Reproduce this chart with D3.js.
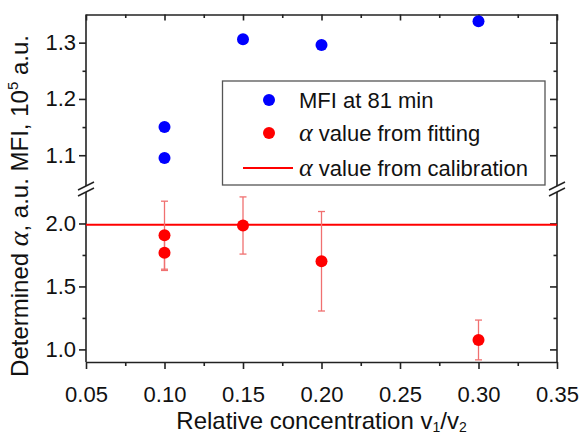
<!DOCTYPE html>
<html>
<head>
<meta charset="utf-8">
<script src="https://cdn.jsdelivr.net/npm/d3@7"></script>
<style>
  body { margin: 0; background: #fff; }
  svg { display: block; font-family: "Liberation Sans", Arial, sans-serif; }
</style>
</head>
<body>
<div id="chart"></div>
<script>
// données
const xTicks = [0.05, 0.10, 0.15, 0.20, 0.25, 0.30, 0.35];
const topTicks = [1.1, 1.2, 1.3];
const bottomTicks = [1.0, 1.5, 2.0];

const mfiX = [0.10, 0.10, 0.15, 0.20, 0.30];
const mfiY = [1.15, 1.095, 1.306, 1.296, 1.338];

const alphaX = [0.10, 0.10, 0.15, 0.20, 0.30];
const alphaY = [1.907, 1.767, 1.984, 1.70, 1.075];
const alphaErr = [0.27, 0.14, 0.227, 0.395, 0.158];

const calibration = 1.99;

const legendLabels = ["MFI at 81 min", "value from fitting", "value from calibration"];

const width = 580, height = 437;
const mLeft = 86, mRight = 557, mTop = 14.5, mBottom = 362;
const breakY = 189;

const svg = d3.select("#chart").append("svg")
  .attr("width", width)
  .attr("height", height);

const x = d3.scaleLinear().domain([0.05, 0.35]).range([mLeft, mRight]);
// deux échelles : partie haute (MFI) et partie basse (alpha)
const yTop = d3.scaleLinear().domain([1.04, 1.35]).range([breakY, mTop]);
const yBot = d3.scaleLinear().domain([0.9, 2.25]).range([mBottom, 192]);

const fontSize = 22;

// axes en bas / à gauche (ticks vers l'extérieur)
const xMinor = d3.range(0.075, 0.35, 0.05);
const axisColor = "#222";

const gx = svg.append("g").attr("transform", `translate(0,${mBottom})`)
  .call(d3.axisBottom(x).tickValues(xTicks).tickFormat(d3.format(".2f")).tickSize(7).tickSizeOuter(0));
svg.append("g").attr("transform", `translate(0,${mBottom})`)
  .call(d3.axisBottom(x).tickValues(xMinor).tickFormat("").tickSize(4).tickSizeOuter(0))
  .select(".domain").remove();

// axe du haut (ticks vers l'intérieur)
svg.append("g").attr("transform", `translate(0,${mTop})`)
  .call(d3.axisBottom(x).tickValues(xTicks).tickFormat("").tickSize(6).tickSizeOuter(0));
svg.append("g").attr("transform", `translate(0,${mTop})`)
  .call(d3.axisBottom(x).tickValues(xMinor).tickFormat("").tickSize(3.5).tickSizeOuter(0))
  .select(".domain").remove();

// axes gauches, deux morceaux
function leftAxis(scale, ticks, minors, y0, y1) {
  const g = svg.append("g").attr("transform", `translate(${mLeft},0)`);
  g.call(d3.axisLeft(scale).tickValues(ticks).tickFormat(d3.format(".1f")).tickSize(7).tickSizeOuter(0));
  g.select(".domain").remove();
  svg.append("g").attr("transform", `translate(${mLeft},0)`)
    .call(d3.axisLeft(scale).tickValues(minors).tickFormat("").tickSize(3.5))
    .select(".domain").remove();
  svg.append("line").attr("x1", mLeft).attr("x2", mLeft).attr("y1", y0).attr("y2", y1)
    .attr("stroke", axisColor).attr("stroke-width", 1.6);
  // droite
  svg.append("g").attr("transform", `translate(${mRight},0)`)
    .call(d3.axisRight(scale).tickValues(ticks).tickFormat("").tickSize(-7))
    .select(".domain").remove();
  svg.append("g").attr("transform", `translate(${mRight},0)`)
    .call(d3.axisRight(scale).tickValues(minors).tickFormat("").tickSize(-3.5))
    .select(".domain").remove();
  svg.append("line").attr("x1", mRight).attr("x2", mRight).attr("y1", y0).attr("y2", y1)
    .attr("stroke", axisColor).attr("stroke-width", 1.6);
}
leftAxis(yTop, topTicks, [1.15, 1.25], mTop, breakY - 3);
leftAxis(yBot, bottomTicks, [1.25, 1.75], breakY + 3, mBottom);

svg.selectAll(".tick line").attr("stroke", axisColor).attr("stroke-width", 1.6);
svg.selectAll(".domain").attr("stroke", axisColor).attr("stroke-width", 1.6);
svg.selectAll(".tick text")
  .attr("font-size", fontSize)
  .attr("font-family", "'Liberation Sans', Arial, sans-serif")
  .attr("fill", "#111");
gx.selectAll(".tick text").attr("y", 0).attr("dy", 0).attr("transform", "translate(0,40)");

// marques de coupure
[mLeft, mRight].forEach(cx => {
  [-3, 3].forEach(d => {
    svg.append("line")
      .attr("x1", cx - 8).attr("y1", breakY + d + 4)
      .attr("x2", cx + 8).attr("y2", breakY + d - 4)
      .attr("stroke", axisColor).attr("stroke-width", 1.4);
  });
});

// ligne de calibration
svg.append("line")
  .attr("x1", mLeft).attr("x2", mRight)
  .attr("y1", yBot(calibration)).attr("y2", yBot(calibration))
  .attr("stroke", "#ff0000").attr("stroke-width", 2);

// barres d'erreur
const errColor = "#f07070";
alphaX.forEach((xv, i) => {
  const cx = x(xv);
  const y1 = yBot(alphaY[i] + alphaErr[i]);
  const y2 = yBot(alphaY[i] - alphaErr[i]);
  svg.append("line").attr("x1", cx).attr("x2", cx).attr("y1", y1).attr("y2", y2)
    .attr("stroke", errColor).attr("stroke-width", 1.3);
  [y1, y2].forEach(yy => {
    svg.append("line").attr("x1", cx - 3.5).attr("x2", cx + 3.5).attr("y1", yy).attr("y2", yy)
      .attr("stroke", errColor).attr("stroke-width", 1.3);
  });
});

// points
svg.selectAll("circle.mfi").data(mfiX).enter().append("circle")
  .attr("class", "mfi")
  .attr("cx", d => x(d))
  .attr("cy", (d, i) => yTop(mfiY[i]))
  .attr("r", 6)
  .attr("fill", "#0000ff");

svg.selectAll("circle.alpha").data(alphaX).enter().append("circle")
  .attr("class", "alpha")
  .attr("cx", d => x(d))
  .attr("cy", (d, i) => yBot(alphaY[i]))
  .attr("r", 6)
  .attr("fill", "#ff0000");

// légende
const leg = svg.append("g");
leg.append("rect")
  .attr("x", 222.5).attr("y", 81).attr("width", 322.5).attr("height", 104)
  .attr("fill", "#fff").attr("stroke", "#555").attr("stroke-width", 1.3);
leg.append("circle").attr("cx", 269).attr("cy", 100).attr("r", 6).attr("fill", "#0000ff");
leg.append("circle").attr("cx", 269).attr("cy", 133).attr("r", 6).attr("fill", "#ff0000");
leg.append("line").attr("x1", 243).attr("x2", 293).attr("y1", 168).attr("y2", 168)
  .attr("stroke", "#ff0000").attr("stroke-width", 2);

const rowsY = [100, 133, 168];
legendLabels.forEach((lab, i) => {
  const t = leg.append("text").attr("x", 299).attr("y", rowsY[i] + 8)
    .attr("font-size", 22).attr("fill", "#111");
  if (i > 0) {
    t.append("tspan").attr("font-family", "'Liberation Serif', 'Times New Roman', serif")
      .attr("font-style", "italic").attr("font-size", 26).text("α");
    t.append("tspan").text(" " + lab);
  } else {
    t.text(lab);
  }
});

// titres des axes
const xt = svg.append("text")
  .attr("x", (mLeft + mRight) / 2).attr("y", 429)
  .attr("text-anchor", "middle").attr("font-size", 24).attr("fill", "#111");
xt.append("tspan").text("Relative concentration v");
xt.append("tspan").attr("font-size", 14).attr("dy", 3).text("1");
xt.append("tspan").attr("dy", -3).text("/v");
xt.append("tspan").attr("font-size", 14).attr("dy", 3).text("2");

const yt = svg.append("text")
  .attr("transform", "translate(28,206) rotate(-90)")
  .attr("text-anchor", "middle").attr("font-size", 24).attr("fill", "#111");
yt.append("tspan").text("Determined ");
yt.append("tspan").attr("font-family", "'Liberation Serif', 'Times New Roman', serif")
  .attr("font-style", "italic").attr("font-size", 28).text("α");
yt.append("tspan").text(", a.u. MFI, 10");
yt.append("tspan").attr("font-size", 15).attr("dy", -10).text("5");
yt.append("tspan").attr("dy", 10).text(" a.u.");
</script>
</body>
</html>
